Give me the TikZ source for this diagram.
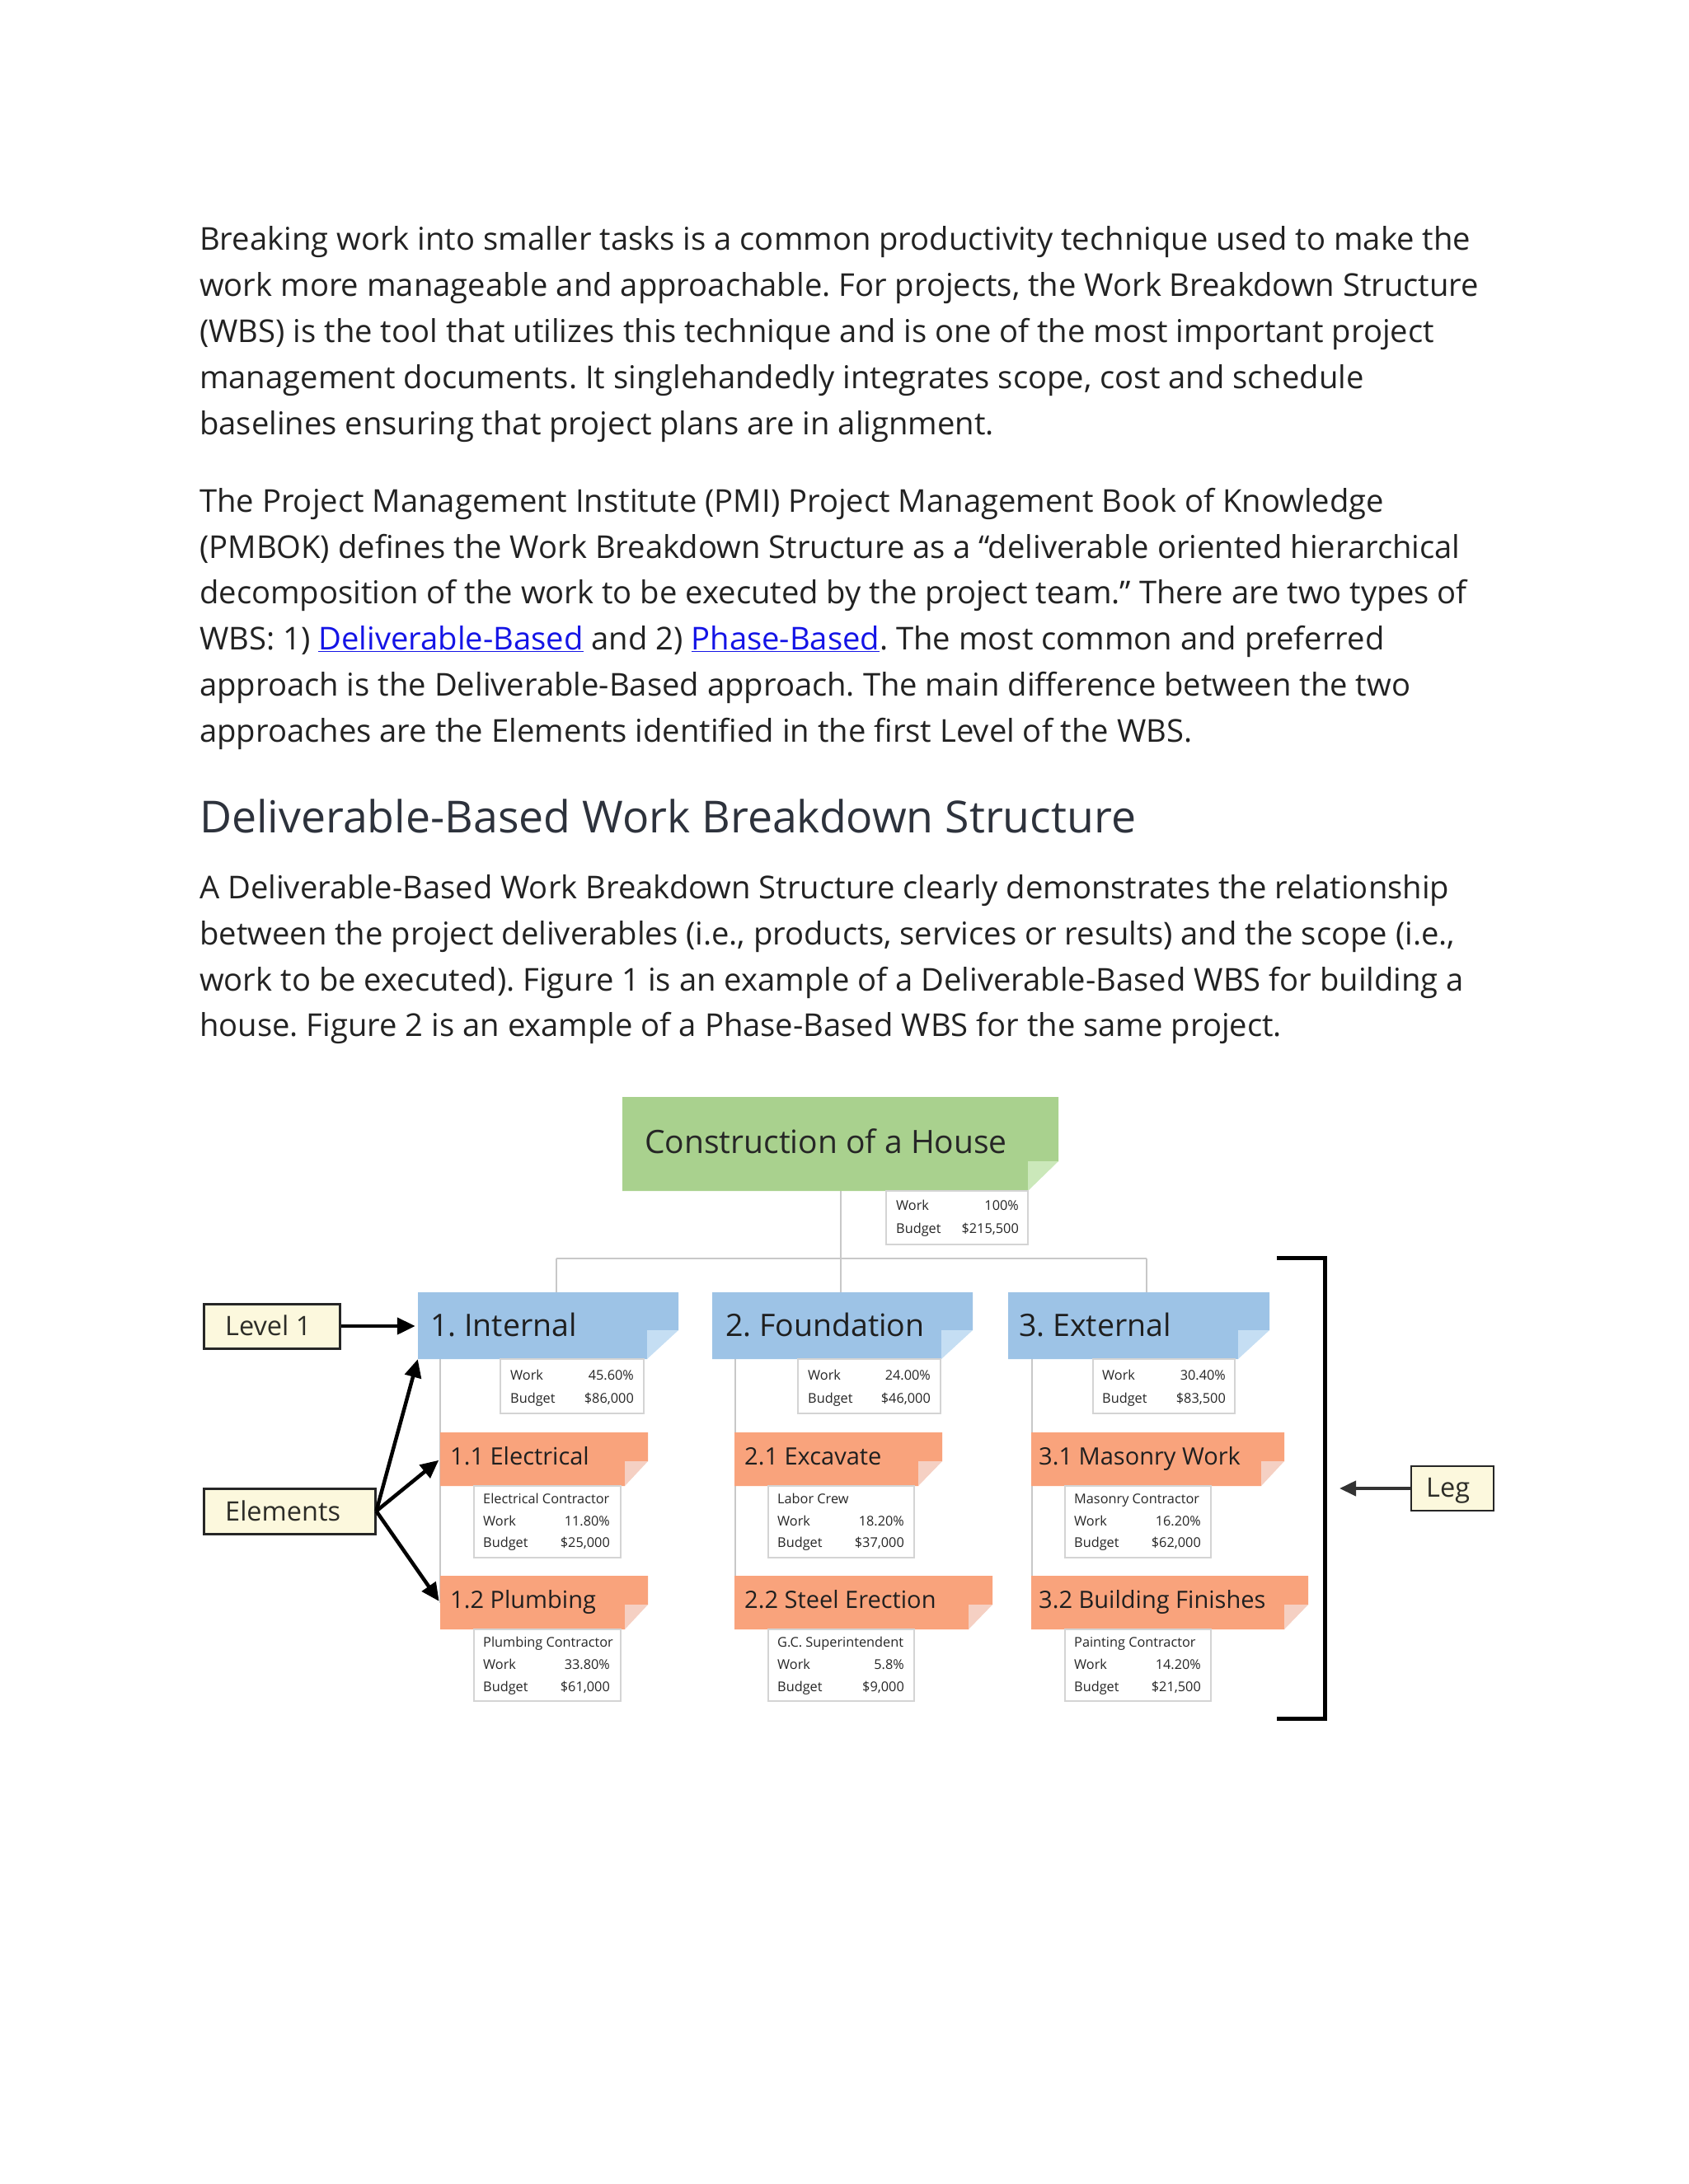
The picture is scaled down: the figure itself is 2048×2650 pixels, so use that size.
\documentclass[tikz,border=0pt]{standalone}
\usepackage{fontspec}
\setmainfont{Open Sans}
\usetikzlibrary{arrows.meta,calc,fit}
\frenchspacing
\definecolor{bodytext}{RGB}{34,34,34}
\definecolor{headtext}{RGB}{45,50,60}
\definecolor{linkblue}{RGB}{20,20,230}
\definecolor{gfill}{RGB}{169,209,142}
\definecolor{gfold}{RGB}{203,232,186}
\definecolor{bfill}{RGB}{157,195,230}
\definecolor{bfold}{RGB}{197,222,243}
\definecolor{ofill}{RGB}{249,163,124}
\definecolor{ofold}{RGB}{245,208,195}
\definecolor{conn}{RGB}{200,200,200}
\definecolor{infoborder}{RGB}{212,212,212}
\definecolor{cream}{RGB}{252,248,221}
\definecolor{labtext}{RGB}{45,45,40}
\tikzset{
  body/.style={anchor=base west,inner sep=0pt,text=bodytext,font=\fontsize{38.2}{46}\selectfont\frenchspacing},
  headsty/.style={anchor=base west,inner sep=0pt,text=headtext,font=\fontsize{53.6}{60}\selectfont},
  area/.style={inner sep=0pt,draw=none},
  titletxt/.style={anchor=base west,inner sep=0pt,text=black!85,font=\fontsize{39}{46}\selectfont},
  lonetxt/.style={anchor=base west,inner sep=0pt,text=black!88,font=\fontsize{37.5}{44}\selectfont},
  ltwotxt/.style={anchor=base west,inner sep=0pt,text=black!88,font=\fontsize{29}{34}\selectfont},
  infotxt/.style={inner sep=0pt,text=black!85,font=\fontsize{16.3}{19}\selectfont},
  infobox/.style={draw=infoborder,line width=1.5pt,fill=white},
  connline/.style={draw=conn,line width=2.2pt},
  labbox/.style={draw=black!85,line width=3pt,fill=cream},
  labtxt/.style={anchor=base west,inner sep=0pt,text=labtext,font=\fontsize{32.5}{38}\selectfont},
  bigarrow/.style={draw=black,line width=4.5pt,-{Triangle[length=22pt,width=20pt]}},
  legarrow/.style={draw=black!80,line width=4pt,-{Triangle[length=20pt,width=18pt]}},
}
% fold box: x1,y1,x2,y2,nx,ny,fill,fold,name
\newcommand\foldbox[9]{%
  \fill[#7] (#1,#2) -- (#3,#2) -- (#3,#4-#6) -- (#3-#5,#4-#6) -- (#3-#5,#4) -- (#1,#4) -- cycle;
  \fill[#8] (#3-#5,#4-#6) -- (#3,#4-#6) -- (#3-#5,#4) -- cycle;
  \path (#1,#2) coordinate (#9nw) (#3,#4) coordinate (#9se);
  \node[area,fit=(#9nw)(#9se)] (#9) {};}
% info box: name,x1,y1,x2,y2
\newcommand\infob[5]{%
  \path (#2,#3) coordinate (#1nw) (#4,#5) coordinate (#1se);
  \node[infobox,inner sep=0pt,fit=(#1nw)(#1se)] (#1) {};}
% info row: name,xl,xr,y,label,value
\newcommand\inforow[6]{%
  \node[infotxt,anchor=base west] (#1l) at (#2,#4) {#5};
  \node[infotxt,anchor=base east] (#1v) at (#3,#4) {#6};}
\newcommand\bline[3]{\node[body] (#1) at (242,#2) {#3};}
\newcommand\lnk[1]{{\color{linkblue}\underline{#1}}}
\begin{document}
\begin{tikzpicture}[x=1pt,y=-1pt]
\useasboundingbox[fill=white] (0,0) rectangle (2048,2650);
% ---------- text ----------
\bline{pa1}{303}{Breaking work into smaller tasks is a common productivity technique used to make the}
\bline{pa2}{359}{work more manageable and approachable. For projects, the Work Breakdown Structure}
\bline{pa3}{415}{(WBS) is the tool that utilizes this technique and is one of the most important project}
\bline{pa4}{471}{management documents. It singlehandedly integrates scope, cost and schedule}
\bline{pa5}{527}{baselines ensuring that project plans are in alignment.}
\bline{pb1}{621}{The Project Management Institute (PMI) Project Management Book of Knowledge}
\bline{pb2}{677}{(PMBOK) defines the Work Breakdown Structure as a “deliverable oriented hierarchical}
\bline{pb3}{732}{decomposition of the work to be executed by the project team.” There are two types of}
\bline{pb4}{788}{WBS: 1) \lnk{Deliverable-Based} and 2) \lnk{Phase-Based}. The most common and preferred}
\bline{pb5}{844}{approach is the Deliverable-Based approach. The main difference between the two}
\bline{pb6}{900}{approaches are the Elements identified in the first Level of the WBS.}
\node[headsty] (head) at (242,1010) {Deliverable-Based Work Breakdown Structure};
\bline{pc1}{1090}{A Deliverable-Based Work Breakdown Structure clearly demonstrates the relationship}
\bline{pc2}{1146}{between the project deliverables (i.e., products, services or results) and the scope (i.e.,}
\bline{pc3}{1202}{work to be executed). Figure 1 is an example of a Deliverable-Based WBS for building a}
\bline{pc4}{1257}{house. Figure 2 is an example of a Phase-Based WBS for the same project.}
% ---------- diagram ----------
\path (675,1527) coordinate (hl) (1391,1527) coordinate (hr) (1020,1527) coordinate (hm);
% connectors (drawn under boxes)
\draw[connline] (1020,1445) -- (hm);
\draw[connline] (hl) -- (hr);
\draw[connline] (hl) -- (675,1568);
\draw[connline] (hm) -- (1020,1568);
\draw[connline] (hr) -- (1391,1568);
\draw[connline] (534,1649) -- (534,1945);
\draw[connline] (892,1649) -- (892,1945);
\draw[connline] (1252,1649) -- (1252,1945);
% title
\foldbox{755}{1331}{1284}{1445}{37}{36}{gfill}{gfold}{top}
\node[titletxt] (topt) at (782,1399) {Construction of a House};
\infob{topi}{1075}{1445}{1247}{1510}
\inforow{topa}{1087}{1236}{1468}{Work}{100\%}
\inforow{topb}{1087}{1236}{1496}{Budget}{\$215,500}
% level 1
\foldbox{507}{1568}{823}{1649}{38}{35}{bfill}{bfold}{b1}
\foldbox{864}{1568}{1180}{1649}{38}{35}{bfill}{bfold}{b2}
\foldbox{1223}{1568}{1540}{1649}{38}{35}{bfill}{bfold}{b3}
\node[lonetxt] (b1t) at (522,1621) {1. Internal};
\node[lonetxt] (b2t) at (880,1621) {2. Foundation};
\node[lonetxt] (b3t) at (1236,1621) {3. External};
\infob{b1i}{607}{1649}{781}{1715}
\inforow{b1a}{619}{769}{1674}{Work}{45.60\%}
\inforow{b1b}{619}{769}{1702}{Budget}{\$86,000}
\infob{b2i}{968}{1649}{1141}{1715}
\inforow{b2a}{980}{1129}{1674}{Work}{24.00\%}
\inforow{b2b}{980}{1129}{1702}{Budget}{\$46,000}
\infob{b3i}{1326}{1649}{1498}{1715}
\inforow{b3a}{1337}{1487}{1674}{Work}{30.40\%}
\inforow{b3b}{1337}{1487}{1702}{Budget}{\$83,500}
% level 2
\foldbox{534}{1738}{786}{1803}{28}{30}{ofill}{ofold}{o11}
\foldbox{534}{1912}{786}{1977}{28}{30}{ofill}{ofold}{o12}
\foldbox{891}{1738}{1143}{1803}{29}{30}{ofill}{ofold}{o21}
\foldbox{891}{1912}{1204}{1977}{29}{30}{ofill}{ofold}{o22}
\foldbox{1251}{1738}{1558}{1803}{28}{30}{ofill}{ofold}{o31}
\foldbox{1251}{1912}{1587}{1977}{29}{30}{ofill}{ofold}{o32}
\node[ltwotxt] (o11t) at (546,1777) {1.1 Electrical};
\node[ltwotxt] (o12t) at (546,1951) {1.2 Plumbing};
\node[ltwotxt] (o21t) at (903,1777) {2.1 Excavate};
\node[ltwotxt] (o22t) at (903,1951) {2.2 Steel Erection};
\node[ltwotxt] (o31t) at (1260,1777) {3.1 Masonry Work};
\node[ltwotxt] (o32t) at (1260,1951) {3.2 Building Finishes};
% level 2 info
\infob{o11i}{575}{1803}{753}{1890}
\node[infotxt,anchor=base west] (o11c) at (586,1824) {Electrical Contractor};
\inforow{o11a}{586}{740}{1851}{Work}{11.80\%}
\inforow{o11b}{586}{740}{1877}{Budget}{\$25,000}
\infob{o12i}{575}{1977}{753}{2064}
\node[infotxt,anchor=base west] (o12c) at (586,1998) {Plumbing Contractor};
\inforow{o12a}{586}{740}{2025}{Work}{33.80\%}
\inforow{o12b}{586}{740}{2052}{Budget}{\$61,000}
\infob{o21i}{932}{1803}{1109}{1890}
\node[infotxt,anchor=base west] (o21c) at (943,1824) {Labor Crew};
\inforow{o21a}{943}{1097}{1851}{Work}{18.20\%}
\inforow{o21b}{943}{1097}{1877}{Budget}{\$37,000}
\infob{o22i}{932}{1977}{1109}{2064}
\node[infotxt,anchor=base west] (o22c) at (943,1998) {G.C. Superintendent};
\inforow{o22a}{943}{1097}{2025}{Work}{5.8\%}
\inforow{o22b}{943}{1097}{2052}{Budget}{\$9,000}
\infob{o31i}{1292}{1803}{1469}{1890}
\node[infotxt,anchor=base west] (o31c) at (1303,1824) {Masonry Contractor};
\inforow{o31a}{1303}{1457}{1851}{Work}{16.20\%}
\inforow{o31b}{1303}{1457}{1877}{Budget}{\$62,000}
\infob{o32i}{1292}{1977}{1469}{2064}
\node[infotxt,anchor=base west] (o32c) at (1303,1998) {Painting Contractor};
\inforow{o32a}{1303}{1457}{2025}{Work}{14.20\%}
\inforow{o32b}{1303}{1457}{2052}{Budget}{\$21,500}
% side labels
\path (247,1582) coordinate (lvnw) (412,1636) coordinate (lvse);
\node[labbox,inner sep=0pt,fit=(lvnw)(lvse)] (lvl) {};
\node[labtxt] (lvlt) at (273,1620) {Level 1};
\path (247,1806) coordinate (elnw) (455,1861) coordinate (else);
\node[labbox,inner sep=0pt,fit=(elnw)(else)] (el) {};
\node[labtxt] (elt) at (273,1845) {Elements};
\path (1712,1779) coordinate (lgnw) (1812,1833) coordinate (lgse);
\node[labbox,line width=2.2pt,inner sep=0pt,fit=(lgnw)(lgse)] (leg) {};
\node[labtxt] (legt) at (1730,1816) {Leg};
% arrows
\draw[bigarrow,shorten >=3pt] (lvl.east) -- (lvl.east -| b1.west);
\draw[bigarrow] (el.east) -- (b1.south west);
\draw[bigarrow,shorten >=2pt] (el.east) -- (o11.west);
\draw[bigarrow,shorten >=2pt] (el.east) -- (o12.west);
\coordinate (legtip) at (1625,1806);
\draw[legarrow] (leg.west) -- (legtip);
% bracket
\draw[line width=5pt,line cap=butt] (1549,1526) -- (1607,1526) -- (1607,2085) -- (1549,2085);
\end{tikzpicture}
\end{document}
